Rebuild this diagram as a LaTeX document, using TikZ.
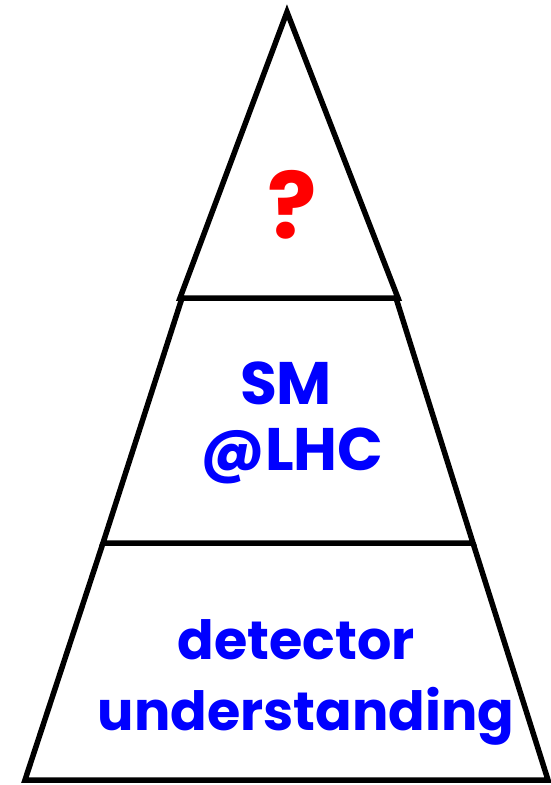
\documentclass[tikz,border=0pt]{standalone}
\usepackage{fontspec}
\setmainfont{Poppins}
\begin{document}
\begin{tikzpicture}[x=1pt,y=-1pt,
  tier/.style={draw=black,line width=5.5pt,line join=miter},
  label/.style={font=\bfseries\fontsize{54}{60}\selectfont,text=blue,align=center,inner sep=0pt}]
\useasboundingbox (0,0) rectangle (550,785);
% apex triangle
\draw[tier] (287,12) -- (180,298) -- (398,298) -- cycle;
% middle band
\draw[tier] (182,298) -- (103,543) -- (473,543) -- (396,298);
% bottom band
\draw[tier] (103,543) -- (25,780) -- (548,780) -- (473,543);
% labels
\node[label,text=red,font=\bfseries\fontsize{92}{96}\selectfont] (q) at (292,205) {?};
\node[label,font=\bfseries\fontsize{60}{64}\selectfont] (sm) at (286,383) {SM};
\node[label,font=\bfseries\fontsize{60}{64}\selectfont] (lhc) at (292,456) {@LHC};
\node[label] (det) at (296,640) {detector};
\node[label] (und) at (306,716) {understanding};
\end{tikzpicture}
\end{document}
